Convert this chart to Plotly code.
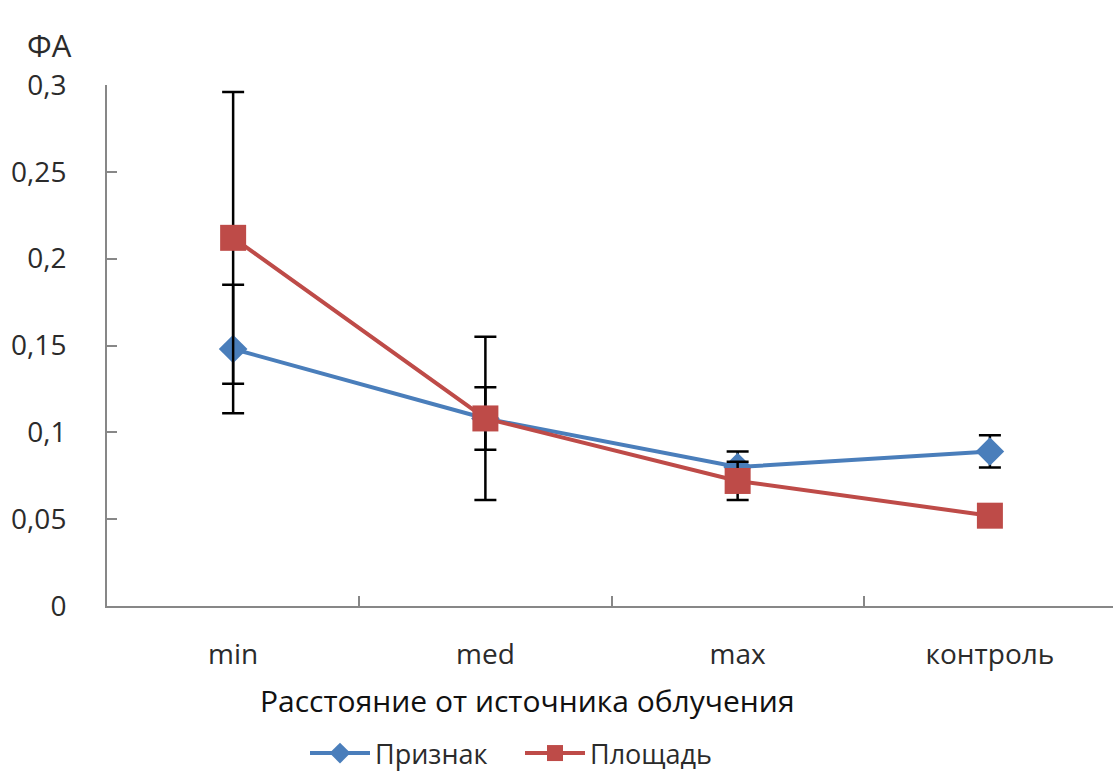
import plotly.graph_objects as go

categories = ["min", "med", "max", "контроль"]

priznak = [0.148, 0.108, 0.080, 0.089]
priznak_err = [0.037, 0.018, 0.009, 0.0093]

ploshchad = [0.212, 0.108, 0.072, 0.052]
ploshchad_err = [0.084, 0.047, 0.011, 0.005]

y_ticks = [0, 0.05, 0.1, 0.15, 0.2, 0.25, 0.3]
y_tick_labels = ["0", "0,05", "0,1", "0,15", "0,2", "0,25", "0,3"]

FONT = "Open Sans, Lato, sans-serif"
AXIS_GREY = "#878787"
TEXT = "#2b2b2b"
BLUE = "#4A7EBB"
RED = "#BE4B48"

# plot-area geometry in pixels
L, T, B = 107, 85, 172
W, H = 1113, 778
PW, PH = W - L, H - T - B

fig = go.Figure()

fig.add_trace(go.Scatter(
    x=categories, y=priznak, name="Признак", mode="lines+markers",
    line=dict(color=BLUE, width=4),
    marker=dict(symbol="diamond", size=22, color=BLUE),
    error_y=dict(type="data", array=priznak_err, color="black", thickness=2.5, width=11),
))
fig.add_trace(go.Scatter(
    x=categories, y=ploshchad, name="Площадь", mode="lines+markers",
    line=dict(color=RED, width=4),
    marker=dict(symbol="square", size=26, color=RED),
    error_y=dict(type="data", array=ploshchad_err, color="black", thickness=2.5, width=11),
))

fig.update_layout(
    width=W, height=H,
    margin=dict(l=L, r=0, t=T, b=B, autoexpand=False),
    paper_bgcolor="white", plot_bgcolor="white",
    font=dict(family=FONT, size=28, color=TEXT),
    showlegend=True,
    legend=dict(
        orientation="h", x=(520 - L) / PW, xanchor="center",
        y=(T + PH - 729) / PH, yanchor="top",
        font=dict(size=27, color=TEXT), itemwidth=60, traceorder="normal",
        entrywidth=140,
    ),
    xaxis=dict(
        type="category", range=[-0.5, 3.488], tickson="boundaries",
        showline=True, linecolor=AXIS_GREY, linewidth=2,
        ticks="inside", ticklen=10, tickcolor=AXIS_GREY, tickwidth=2,
        showgrid=False, zeroline=False, ticklabelstandoff=22,
        tickfont=dict(size=28, color=TEXT),
    ),
    yaxis=dict(
        range=[0, 0.3], tickvals=y_ticks, ticktext=y_tick_labels,
        showline=True, linecolor=AXIS_GREY, linewidth=2,
        ticks="inside", ticklen=10, tickcolor=AXIS_GREY, tickwidth=2,
        showgrid=False, zeroline=False, ticklabelstandoff=33,
        tickfont=dict(size=28, color=TEXT),
    ),
    annotations=[
        dict(text="ФА", x=(49 - L) / PW, y=(T + PH - 45) / PH,
             xref="paper", yref="paper", showarrow=False,
             xanchor="center", yanchor="middle",
             font=dict(size=31, color=TEXT)),
        dict(text="Расстояние от источника облучения",
             x=(527 - L) / PW, y=(T + PH - 700) / PH,
             xref="paper", yref="paper", showarrow=False,
             xanchor="center", yanchor="middle",
             font=dict(size=30, color="#111111")),
    ],
)

fig.write_html("out.html")
